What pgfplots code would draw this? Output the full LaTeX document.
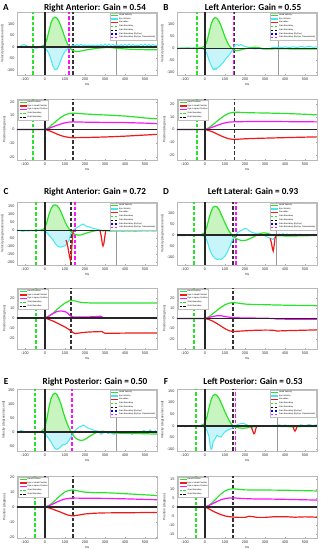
\documentclass[border=0pt]{standalone}
\usepackage{pgfplots}
\pgfplotsset{compat=1.18}
\usepackage{fontspec}
\setmainfont{Liberation Sans}
\newfontfamily\titlefont{Carlito}
\definecolor{hgreen}{RGB}{40,228,40}
\definecolor{hfill}{RGB}{200,244,192}
\definecolor{ecyan}{RGB}{70,232,240}
\definecolor{efill}{RGB}{200,245,250}
\definecolor{sred}{RGB}{240,25,25}
\definecolor{mag}{RGB}{250,20,250}
\tikzset{dashed leg/.style={line width=1.3pt, dash pattern=on 2.2pt off 1.6pt}}
\pgfplotsset{
 base/.style={scale only axis, width=140pt, xmin=-140, xmax=560, xtick={-100,0,...,500},
  axis line style={gray!55, line width=0.3pt}, tick style={gray!70, line width=0.3pt},
  major tick length=1.2pt, tick align=inside,
  ticklabel style={font=\fontsize{3.8}{4.2}\selectfont, text=black!80},
  /pgf/number format/assume math mode=true,
  label style={font=\fontsize{3.3}{3.7}\selectfont, text=black!80},
  xlabel={ms}, xlabel style={yshift=3pt}, ylabel style={yshift=-4pt},
  anchor=north west, legend cell align=left,
  xticklabel style={yshift=1pt}, yticklabel style={xshift=1pt},
  legend image code/.code={\draw[#1] (0pt,0pt) -- (7pt,0pt);},
  legend style={font=\fontsize{2.1}{2.3}\selectfont, draw=gray!50, line width=0.2pt,
    inner sep=0.5pt, nodes={inner sep=0.35pt}}},
 vel/.style={base, height=63pt, ylabel={Velocity (degrees/second)},
  legend style={at={(0.995,0.985)}, anchor=north east}},
 pos/.style={base, height=61pt, ylabel={Position (degrees)},
  legend style={at={(0.01,0.985)}, anchor=north west}},
 head/.style={hgreen, line width=1.2pt, forget plot},
 eye/.style={ecyan, line width=1pt, forget plot},
 sacc/.style={sred, line width=1.2pt, forget plot},
 eis/.style={mag, line width=1.2pt, forget plot},
 eih/.style={sred, line width=1.2pt, forget plot},
 gdash/.style={hgreen, line width=1.3pt, dash pattern=on 3.5pt off 2pt, forget plot},
 kdash/.style={black!80, line width=1.3pt, dash pattern=on 3.5pt off 2pt, forget plot},
 mdash/.style={mag, line width=1.3pt, dash pattern=on 3.5pt off 2pt, forget plot},
 grayv/.style={gray!80, line width=0.9pt, forget plot},
 zero/.style={black!85, line width=1.2pt, forget plot},
}
\newcommand{\vl}[4]{\addplot[#4] coordinates {(#1,#2) (#1,#3)};}
\newcommand{\hz}{\addplot[zero] coordinates {(-140,0) (560,0)};}
\newcommand{\vellegend}{%
\addlegendimage{hgreen, line width=1.3pt}\addlegendentry{Head Velocity}
\addlegendimage{ecyan, line width=1.3pt}\addlegendentry{Eye Velocity}
\addlegendimage{sred, line width=1.3pt}\addlegendentry{Saccades}
\addlegendimage{hgreen, dashed leg}\addlegendentry{Gain Boundary}
\addlegendimage{black, dashed leg}\addlegendentry{Gain Boundary}
\addlegendimage{blue, dashed leg}\addlegendentry{Gain Boundary (By Eye)}
\addlegendimage{mag, dashed leg}\addlegendentry{Gain Boundary (By Eye, Deaccelerate)}}
\newcommand{\poslegend}{%
\addlegendimage{hgreen, line width=1.3pt}\addlegendentry{Head Position}
\addlegendimage{sred, line width=1.3pt}\addlegendentry{Eye in Head Position}
\addlegendimage{mag, line width=1.3pt}\addlegendentry{Eye in space Position}
\addlegendimage{hgreen, dashed leg}\addlegendentry{Gain Boundary}
\addlegendimage{black, dashed leg}\addlegendentry{Gain Boundary}}
\begin{document}
\begin{tikzpicture}
\useasboundingbox (0,0) rectangle (321pt,550pt);
\tikzset{ttl/.style={font=\titlefont\bfseries\fontsize{9.2}{9.5}\selectfont, anchor=base}}
\node[ttl] at (6pt,539pt) {A};
\node[ttl] at (95pt,539pt) {Right Anterior: Gain = 0.54};
\node[ttl] at (166pt,539pt) {B};
\node[ttl] at (253pt,539pt) {Left Anterior: Gain = 0.55};
\node[ttl] at (6pt,355pt) {C};
\node[ttl] at (95pt,355pt) {Right Anterior: Gain = 0.72};
\node[ttl] at (166pt,355pt) {D};
\node[ttl] at (253pt,355pt) {Left Lateral: Gain = 0.93};
\node[ttl] at (6pt,165pt) {E};
\node[ttl] at (95pt,165pt) {Right Posterior: Gain = 0.50};
\node[ttl] at (166pt,165pt) {F};
\node[ttl] at (253pt,165pt) {Left Posterior: Gain = 0.53};

% ================= A velocity
\begin{axis}[vel, at={(17pt,538pt)}, ymin=-123, ymax=153, ytick={-100,-50,0,50,100}]
\vellegend
\addplot[fill=hfill, draw=none, forget plot] coordinates {(0,0) (0,12) (10,35) (20,70) (30,105) (40,125) (50,130) (60,126) (70,112) (80,90) (90,65) (100,40) (110,18) (120,2) (122,0)};
\addplot[fill=efill, draw=none, forget plot] coordinates {(0,0) (0,-8) (10,-15) (20,-30) (30,-55) (40,-85) (50,-100) (60,-97) (70,-80) (80,-55) (90,-35) (100,-20) (110,-10) (120,-5) (125,-3) (128,0)};
\vl{355}{-123}{153}{grayv}
\vl{-60}{-123}{153}{gdash}
\vl{120}{-123}{153}{mdash}
\vl{140}{-123}{153}{kdash}
\addplot[eye] coordinates {(-140,0) (-125,2) (-115,8) (-105,10) (-95,6) (-85,2) (-75,-2) (-65,-5) (-55,-3) (-45,-6) (-35,-4) (-25,-2) (-15,-3) (-5,-5) (0,-8) (10,-15) (20,-30) (30,-55) (40,-85) (50,-100) (60,-97) (70,-80) (80,-55) (90,-35) (100,-20) (110,-10) (120,-5) (125,-3) (130,2) (140,8) (150,5) (160,10) (170,6) (180,11) (190,5) (200,9) (210,4) (220,8) (230,5) (240,9) (250,3) (260,8) (270,4) (280,10) (290,4) (300,12) (310,5) (320,12) (330,6) (340,11) (350,4) (360,8) (370,4) (380,10) (390,5) (400,11) (410,5) (420,12) (430,6) (440,10) (450,4) (460,8) (470,5) (480,11) (490,5) (500,12) (510,6) (520,10) (530,5) (540,11) (550,5) (560,8)};
\addplot[head] coordinates {(-140,0) (-60,0) (-30,1) (-15,3) (-5,8) (0,12) (10,35) (20,70) (30,105) (40,125) (50,130) (60,126) (70,112) (80,90) (90,65) (100,40) (110,18) (120,2) (130,-10) (140,-16) (150,-19) (160,-20) (180,-18) (200,-14) (230,-10) (260,-6) (300,-3) (330,-3) (360,-6) (400,-9) (450,-11) (500,-12) (560,-12)};
\hz
\vl{0}{-123}{153}{zero}
\end{axis}
% ================= A position
\begin{axis}[pos, at={(17pt,451pt)}, ymin=-22, ymax=22, ytick={-20,-10,0,10,20}]
\poslegend
\vl{-60}{-22}{22}{gdash}
\vl{140}{-22}{22}{kdash}
\addplot[head] coordinates {(-140,0) (0,0) (20,1.5) (40,4) (60,6.5) (80,8.8) (100,10.5) (120,11.5) (140,11.8) (170,11.6) (200,11.2) (250,10.8) (300,10.5) (350,10.1) (400,9.7) (450,9.1) (500,8.3) (560,7.7)};
\addplot[eis] coordinates {(-140,0) (0,0) (20,0.8) (40,2) (60,3) (80,4) (100,4.8) (120,5.3) (140,5.5) (200,5.3) (300,5.1) (400,5) (500,4.6) (560,4.2)};
\addplot[eih] coordinates {(0,0) (20,-0.8) (40,-2) (60,-3.3) (80,-4.4) (100,-5.2) (120,-5.7) (140,-5.9) (200,-5.8) (300,-5.4) (400,-4.8) (500,-4) (560,-3.5)};
\hz
\vl{0}{-22}{22}{zero}
\end{axis}

% ================= B velocity
\begin{axis}[vel, at={(177pt,538pt)}, ymin=-114, ymax=154, ytick={-100,-50,0,50,100}]
\vellegend
\addplot[fill=hfill, draw=none, forget plot] coordinates {(0,0) (0,10) (10,30) (20,65) (30,100) (40,122) (50,130) (60,127) (70,115) (80,95) (90,72) (100,48) (110,28) (120,12) (130,2) (133,0)};
\addplot[fill=efill, draw=none, forget plot] coordinates {(0,0) (0,-8) (10,-25) (20,-50) (30,-72) (40,-88) (45,-92) (50,-85) (55,-90) (60,-84) (70,-80) (80,-70) (90,-62) (100,-50) (110,-40) (120,-30) (130,-18) (140,-5) (143,0)};
\vl{365}{-114}{154}{grayv}
\vl{-40}{-114}{154}{gdash}
\vl{148}{-114}{154}{kdash}
\vl{142}{-114}{154}{mdash}
\addplot[eye] coordinates {(-140,0) (-130,-2) (-115,1) (-100,0) (-85,2) (-70,-1) (-55,1) (-40,-2) (-25,0) (-10,-3) (0,-8) (10,-25) (20,-50) (30,-72) (40,-88) (45,-92) (50,-85) (55,-90) (60,-84) (70,-80) (80,-70) (90,-62) (100,-50) (110,-40) (120,-30) (130,-18) (140,-5) (145,5) (150,14) (160,15) (170,12) (180,16) (190,10) (200,8) (215,4) (230,1) (250,-3) (270,-1) (290,-4) (310,-2) (330,0) (340,4) (355,2) (370,5) (385,2) (400,6) (420,3) (440,6) (460,3) (480,7) (500,4) (520,8) (540,4) (560,6)};
\addplot[head] coordinates {(-140,0) (-60,0) (-30,1) (-15,3) (0,10) (10,30) (20,65) (30,100) (40,122) (50,130) (60,127) (70,115) (80,95) (90,72) (100,48) (110,28) (120,12) (130,2) (140,-5) (150,-9) (160,-10) (175,-8) (190,-4) (210,-1) (230,2) (250,4) (270,2) (290,-2) (310,-4) (340,-3) (380,-2) (420,-3) (470,-4) (520,-4) (560,-4)};
\hz
\vl{0}{-114}{154}{zero}
\end{axis}
% ================= B position
\begin{axis}[pos, at={(177pt,451pt)}, ymin=-24, ymax=24, ytick={-20,-10,0,10,20}]
\poslegend
\vl{-40}{-24}{24}{gdash}
\vl{148}{-24}{24}{kdash}
\addplot[head] coordinates {(-140,0) (0,0) (20,1.5) (40,3.8) (60,6.5) (80,9) (100,11.2) (120,12.8) (140,13.5) (160,13.6) (200,13.3) (250,13.1) (300,13) (400,12.6) (500,12) (560,11.5)};
\addplot[eis] coordinates {(-140,0) (0,0) (20,0.8) (40,2) (60,3.2) (80,4.3) (100,5.2) (120,5.8) (150,6.1) (200,6.2) (250,6.3) (300,6.3) (400,6.2) (560,6)};
\addplot[eih] coordinates {(0,0) (20,-0.8) (40,-2) (60,-3.5) (80,-5) (100,-6.3) (120,-7.3) (140,-7.8) (160,-7.7) (200,-7.3) (250,-7) (350,-6.6) (450,-6.2) (560,-5.8)};
\hz
\vl{0}{-24}{24}{zero}
\end{axis}

% ================= C velocity
\begin{axis}[vel, at={(17pt,348pt)}, ymin=-217, ymax=178, ytick={-200,-150,...,150}]
\vellegend
\addplot[fill=hfill, draw=none, forget plot] coordinates {(0,0) (0,20) (10,55) (20,100) (30,135) (40,155) (50,160) (60,155) (70,140) (80,115) (90,85) (100,55) (110,30) (120,10) (125,0)};
\addplot[fill=efill, draw=none, forget plot] coordinates {(0,0) (0,-5) (10,-15) (20,-30) (30,-45) (40,-60) (50,-80) (60,-95) (70,-103) (80,-105) (90,-100) (100,-97) (110,-85) (120,-60) (125,-40) (130,-20) (140,0)};
\vl{355}{-217}{178}{grayv}
\vl{-45}{-217}{178}{gdash}
\vl{130}{-217}{178}{kdash}
\vl{150}{-217}{178}{mdash}
\addplot[eye] coordinates {(-140,0) (-125,-2) (-110,-6) (-100,-3) (-85,-4) (-70,-2) (-55,-3) (-40,-1) (-25,-2) (-10,-3) (0,-5) (10,-15) (20,-30) (30,-45) (40,-60) (50,-80) (60,-95) (70,-103) (80,-105) (90,-100) (100,-97) (110,-85) (120,-60) (125,-40) (130,-20) (140,0) (150,10) (160,18) (170,25) (180,35) (190,40) (200,32) (210,25) (220,22) (235,15) (250,10) (265,5) (280,0) (290,-5) (300,0) (315,-3) (330,-6) (345,-3) (360,-5) (375,-2) (390,-6) (405,-2) (420,-5) (435,-2) (450,-6) (465,-3) (480,-5) (495,-2) (510,-5) (525,-2) (540,-5) (560,-3)};
\addplot[head] coordinates {(-140,0) (-50,0) (-20,2) (-5,10) (0,20) (10,55) (20,100) (30,135) (40,155) (50,160) (60,155) (70,140) (80,115) (90,85) (100,55) (110,30) (120,10) (130,-8) (140,-18) (150,-25) (160,-28) (170,-30) (180,-28) (200,-20) (220,-12) (240,-5) (260,-1) (290,0) (320,-2) (360,-3) (400,-3) (450,-2) (500,-1) (560,-1)};
\addplot[sacc] coordinates {(105,-60) (112,-90) (118,-130) (123,-165) (127,-188) (131,-160) (135,-90) (139,-25) (142,0)};
\addplot[sacc] coordinates {(275,-3) (281,-35) (286,-80) (290,-98) (294,-85) (299,-40) (304,0)};
\hz
\vl{0}{-217}{178}{zero}
\end{axis}
% ================= C position
\begin{axis}[pos, at={(17pt,262pt)}, ymin=-31, ymax=30, ytick={-20,-10,0,10,20}]
\poslegend
\vl{-45}{-31}{30}{gdash}
\vl{130}{-31}{30}{kdash}
\addplot[head] coordinates {(-140,0) (0,0) (10,0.6) (20,1.8) (40,4.8) (60,8.5) (80,12) (100,15) (120,17) (135,17.5) (150,17) (170,16) (190,15.4) (220,15.1) (260,15) (300,15) (400,15) (560,15)};
\addplot[eis] coordinates {(-140,0) (0,0) (20,2) (40,4.5) (60,6.5) (75,7) (90,6.8) (105,6) (115,4.5) (125,2.5) (135,1.2) (150,1) (200,1) (250,1.3) (280,1.8) (290,0.3) (300,0) (560,0)};
\addplot[eih] coordinates {(0,0) (20,-1.5) (40,-3) (60,-5) (80,-7) (100,-9) (120,-11.5) (130,-13) (140,-14.5) (150,-15.5) (165,-15.2) (190,-14.5) (220,-14) (260,-13.7) (285,-13.5) (292,-14.5) (300,-15.3) (350,-15.2) (450,-15) (560,-15)};
\hz
\vl{0}{-31}{30}{zero}
\end{axis}

% ================= D velocity
\begin{axis}[vel, at={(177pt,348pt)}, ymin=-135, ymax=149, ytick={-100,-50,0,50,100}]
\vellegend
\addplot[fill=hfill, draw=none, forget plot] coordinates {(0,0) (0,15) (10,40) (20,75) (30,105) (40,125) (50,130) (60,127) (70,115) (80,95) (90,75) (100,55) (110,35) (120,18) (130,5) (135,0)};
\addplot[fill=efill, draw=none, forget plot] coordinates {(0,0) (0,-8) (10,-25) (20,-55) (30,-80) (40,-95) (50,-105) (60,-110) (70,-108) (80,-110) (90,-103) (100,-95) (110,-80) (120,-60) (130,-38) (140,-18) (150,-3) (153,0)};
\vl{355}{-135}{149}{grayv}
\vl{-55}{-135}{149}{gdash}
\vl{140}{-135}{149}{kdash}
\vl{155}{-135}{149}{mdash}
\addplot[eye] coordinates {(-140,0) (-130,-3) (-120,-2) (-105,-4) (-90,-1) (-75,-3) (-60,0) (-45,-2) (-30,-1) (-15,-3) (0,-8) (10,-25) (20,-55) (30,-80) (40,-95) (50,-105) (60,-110) (70,-108) (80,-110) (90,-103) (100,-95) (110,-80) (120,-60) (130,-38) (140,-18) (150,-3) (160,8) (170,15) (180,20) (190,25) (200,30) (210,28) (220,20) (235,12) (250,8) (265,5) (280,3) (295,-2) (310,-8) (320,-12) (330,-15) (340,-20) (350,-10) (360,-2) (370,5) (380,0) (390,6) (400,1) (410,5) (420,0) (430,4) (440,1) (450,5) (460,0) (475,4) (490,0) (505,3) (520,0) (540,3) (560,1)};
\addplot[head] coordinates {(-140,0) (-40,0) (-20,2) (-5,8) (0,15) (10,40) (20,75) (30,105) (40,125) (50,130) (60,127) (70,115) (80,95) (90,75) (100,55) (110,35) (120,18) (130,5) (140,-5) (150,-12) (165,-20) (180,-24) (195,-25) (210,-22) (230,-14) (250,-5) (265,3) (280,8) (295,10) (310,8) (325,4) (340,0) (360,-3) (400,-4) (450,-4) (500,-3) (560,-2)};
\addplot[sacc] coordinates {(326,-15) (332,-35) (337,-60) (341,-72) (345,-52) (350,-15) (355,0)};
\hz
\vl{0}{-135}{149}{zero}
\end{axis}
% ================= D position
\begin{axis}[pos, at={(177pt,262pt)}, ymin=-30, ymax=30, ytick={-20,-10,0,10,20}]
\poslegend
\vl{-55}{-30}{30}{gdash}
\vl{140}{-30}{30}{kdash}
\addplot[head] coordinates {(-140,0) (0,0) (20,1.8) (40,4.8) (60,8) (80,11) (100,13.5) (120,15) (140,15.7) (160,15.3) (200,14.2) (250,13.7) (300,13.6) (350,13.3) (400,13.1) (560,12.6)};
\addplot[eis] coordinates {(-140,0) (0,0) (20,1) (40,2) (60,2.7) (80,2.7) (100,2) (120,1.3) (140,0.8) (200,0.5) (300,0.3) (340,0) (360,-0.6) (560,-0.8)};
\addplot[eih] coordinates {(0,0) (20,-1) (40,-2.7) (60,-5) (80,-7.5) (100,-10) (120,-12) (140,-12.8) (170,-12.5) (200,-12.1) (250,-11.6) (300,-11.4) (340,-11.5) (360,-12.3) (400,-12) (560,-11.2)};
\hz
\vl{0}{-30}{30}{zero}
\end{axis}

% ================= E velocity
\begin{axis}[vel, at={(17pt,161pt)}, height=62pt, ymin=-68, ymax=155, ytick={-50,0,...,150}]
\vellegend
\addplot[fill=hfill, draw=none, forget plot] coordinates {(0,0) (0,20) (10,50) (20,90) (30,120) (40,135) (50,140) (60,135) (70,120) (80,100) (90,75) (100,52) (110,32) (120,15) (130,2) (132,0)};
\addplot[fill=efill, draw=none, forget plot] coordinates {(0,0) (0,-8) (10,-15) (20,-25) (30,-35) (40,-48) (50,-60) (60,-62) (70,-58) (80,-52) (90,-45) (100,-45) (110,-40) (120,-30) (130,-18) (140,-5) (145,0)};
\vl{355}{-68}{155}{grayv}
\vl{-50}{-68}{155}{gdash}
\vl{135}{-68}{155}{mdash}
\addplot[eye] coordinates {(-140,0) (-130,2) (-120,6) (-110,3) (-100,1) (-85,2) (-70,0) (-55,1) (-40,-1) (-25,0) (-10,-3) (0,-8) (10,-15) (20,-25) (30,-35) (40,-48) (50,-60) (60,-62) (70,-58) (80,-52) (90,-45) (100,-45) (110,-40) (120,-30) (130,-18) (140,-5) (150,5) (160,12) (170,18) (180,20) (190,25) (200,22) (210,16) (225,12) (240,8) (255,5) (270,2) (280,-8) (290,-3) (300,2) (315,-5) (330,-2) (345,-8) (360,0) (375,-5) (390,2) (405,-6) (420,0) (435,-8) (450,3) (465,-4) (480,-1) (495,6) (510,-5) (525,8) (540,-2) (555,6)};
\addplot[head] coordinates {(-140,0) (-40,0) (-20,2) (-5,10) (0,20) (10,50) (20,90) (30,120) (40,135) (50,140) (60,135) (70,120) (80,100) (90,75) (100,52) (110,32) (120,15) (130,2) (140,-10) (150,-20) (165,-27) (180,-30) (195,-28) (210,-22) (230,-12) (250,-4) (270,2) (290,3) (310,0) (340,-3) (380,-4) (450,-5) (500,-6) (560,-7)};
\hz
\vl{0}{-68}{155}{zero}
\end{axis}
% ================= E position
\begin{axis}[pos, at={(17pt,74pt)}, height=62pt, ymin=-20.5, ymax=20.5, ytick={-20,-10,0,10,20}]
\poslegend
\vl{-50}{-20.5}{20.5}{gdash}
\vl{140}{-20.5}{20.5}{kdash}
\addplot[head] coordinates {(-140,0) (0,0) (20,1) (40,3) (60,5.5) (80,8) (100,10) (120,11) (140,11.3) (170,10.5) (200,9.8) (250,9.5) (300,9.4) (350,9.2) (400,8.8) (480,8.2) (560,7.6)};
\addplot[eis] coordinates {(-140,0) (0,0) (20,0.8) (40,2) (60,3.3) (80,4.5) (100,5.3) (120,5.7) (140,5.9) (200,5.8) (300,5.7) (400,5.4) (560,4.8)};
\addplot[eih] coordinates {(0,0) (20,-0.6) (40,-1.5) (60,-2.5) (80,-3.5) (100,-4.6) (120,-5.5) (140,-5.9) (170,-5.3) (200,-4.6) (250,-4.1) (300,-3.9) (400,-3.8) (560,-3.6)};
\hz
\vl{0}{-20.5}{20.5}{zero}
\end{axis}

% ================= F velocity
\begin{axis}[vel, at={(177pt,161pt)}, height=62pt, ymin=-107, ymax=158, ytick={-100,-50,...,150}]
\vellegend
\addplot[fill=hfill, draw=none, forget plot] coordinates {(0,0) (0,15) (10,40) (20,78) (30,110) (40,130) (50,135) (60,130) (70,118) (80,100) (90,80) (100,60) (110,42) (120,25) (130,10) (140,0)};
\addplot[fill=efill, draw=none, forget plot] coordinates {(0,0) (0,-8) (10,-20) (20,-45) (25,-80) (30,-100) (35,-95) (40,-70) (50,-55) (60,-40) (70,-45) (80,-48) (90,-35) (100,-25) (110,-20) (120,-15) (130,-12) (140,-8) (150,0)};
\vl{360}{-107}{158}{grayv}
\vl{-45}{-107}{158}{gdash}
\vl{140}{-107}{158}{kdash}
\vl{152}{-107}{158}{mdash}
\addplot[eye] coordinates {(-140,0) (-130,-2) (-115,1) (-100,-4) (-85,0) (-70,2) (-55,0) (-40,1) (-25,-1) (-10,-3) (0,-8) (10,-20) (20,-45) (25,-80) (30,-100) (35,-95) (40,-70) (50,-55) (60,-40) (70,-45) (80,-48) (90,-35) (100,-25) (110,-20) (120,-15) (130,-12) (140,-8) (150,0) (160,5) (170,8) (180,10) (190,12) (200,8) (210,5) (220,0) (235,-5) (250,-3) (265,0) (280,2) (300,1) (320,0) (340,3) (355,0) (370,5) (385,1) (400,4) (420,0) (440,3) (460,0) (480,5) (500,1) (520,6) (540,2) (560,5)};
\addplot[head] coordinates {(-140,0) (-40,0) (-20,2) (-5,8) (0,15) (10,40) (20,78) (30,110) (40,130) (50,135) (60,130) (70,118) (80,100) (90,80) (100,60) (110,42) (120,25) (130,10) (140,0) (150,-5) (170,-8) (190,-10) (210,-8) (230,-5) (250,-2) (270,0) (300,1) (340,0) (380,-2) (420,-3) (470,-3) (520,-2) (560,-2)};
\addplot[sacc] coordinates {(232,-5) (238,-20) (244,-33) (249,-30) (254,-12) (259,0)};
\addplot[sacc] coordinates {(440,-3) (445,-15) (450,-22) (455,-15) (460,0)};
\hz
\vl{0}{-107}{158}{zero}
\end{axis}
% ================= F position
\begin{axis}[pos, at={(177pt,74pt)}, height=62pt, ymin=-17, ymax=17, ytick={-15,-10,...,15}]
\poslegend
\vl{-45}{-17}{17}{gdash}
\vl{140}{-17}{17}{kdash}
\addplot[head] coordinates {(-140,0) (0,0) (20,0.9) (40,2.7) (60,5) (80,7.2) (100,8.8) (120,9.7) (140,10) (170,9.7) (200,9.4) (250,9.3) (300,9.3) (400,9.2) (480,9) (560,8.8)};
\addplot[eis] coordinates {(-140,0) (0,0) (20,0.8) (40,1.9) (60,3) (80,4) (100,4.6) (120,4.9) (140,5) (170,4.8) (200,4.6) (250,4.4) (300,4.4) (400,4.2) (560,3.8)};
\addplot[eih] coordinates {(0,0) (20,-1) (40,-2.3) (60,-3.3) (80,-4.2) (100,-4.9) (120,-5.3) (140,-5.5) (170,-5.7) (200,-5.7) (220,-5.1) (240,-5.3) (260,-5.7) (300,-5.7) (350,-5.3) (400,-5.3) (450,-5.6) (500,-5.4) (560,-5.6)};
\hz
\vl{0}{-17}{17}{zero}
\end{axis}
\end{tikzpicture}
\end{document}
